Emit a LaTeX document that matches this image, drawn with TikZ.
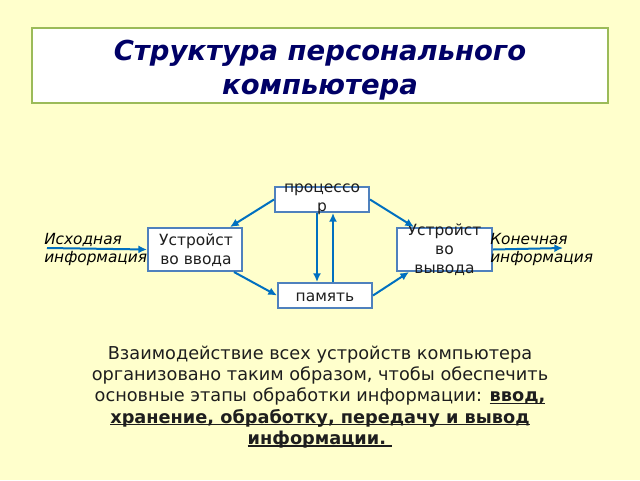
\documentclass[tikz,border=0pt]{standalone}
\usepackage{fontspec}
\setmainfont{DejaVu Sans}
\usetikzlibrary{arrows.meta,calc}
\definecolor{bg}{RGB}{255,255,204}
\definecolor{titlec}{RGB}{0,0,102}
\definecolor{greenb}{RGB}{155,187,89}
\definecolor{boxb}{RGB}{79,129,189}
\definecolor{arrc}{RGB}{0,112,192}
\definecolor{txt}{RGB}{30,30,30}
\newsavebox\ulbox
\newcommand\myul[1]{\sbox\ulbox{#1}\rlap{\rule[-1.6pt]{\wd\ulbox}{1.1pt}}\usebox\ulbox}
\tikzset{
  blk/.style={draw=boxb,line width=1.5pt,fill=white,inner sep=0pt},
  blktext/.style={text=txt,align=center,font=\fontsize{11.6pt}{14.2pt}\selectfont,inner sep=0pt},
  conn/.style={draw=arrc,line width=1.5pt,-{Latex[length=6.5pt,width=6pt]}},
  sidelbl/.style={align=left,inner sep=0pt,font=\fontsize{11.5pt}{13.5pt}\selectfont\itshape}
}
\begin{document}
\begin{tikzpicture}[x=0.75pt,y=-0.75pt]
\path[fill=bg] (0,0) rectangle (640,480);
\useasboundingbox (0,0) rectangle (640,480);
% title
\node[draw=greenb,line width=1.5pt,fill=white,minimum width=576*0.75pt,minimum height=75*0.75pt,inner sep=0pt] (titlebox) at (320,65.5) {};
\node[text=titlec,align=center,font=\fontsize{20.6pt}{25pt}\selectfont\bfseries\itshape,inner sep=0pt] (title) at (320,70) {Структура персонального\\компьютера};
% boxes
\node[blk,minimum width=94*0.75pt,minimum height=25*0.75pt] (proc) at (322,199.5) {};
\node[blk,minimum width=94*0.75pt,minimum height=43*0.75pt] (in) at (195,249.5) {};
\node[blk,minimum width=95*0.75pt,minimum height=43*0.75pt] (out) at (444.5,249.5) {};
\node[blk,minimum width=94*0.75pt,minimum height=25*0.75pt] (mem) at (325,295.5) {};
\node[blktext] (proct) at (322,199) {процессо\\р};
\node[blktext] (int) at (196,250) {Устройст\\во ввода};
\node[blktext] (outt) at (444.5,249.5) {Устройст\\во\\вывода};
\node[blktext] (memt) at (325,297) {память};
% side labels
\node[sidelbl,anchor=west] (src) at (44,249) {Исходная\\информация};
\node[sidelbl,anchor=west] (dst) at (490,249) {Конечная\\информация};
\coordinate (start) at (47,248);
\coordinate (finish) at (563,248);
% connectors
\draw[conn] (start) -- (in.west);
\draw[conn] (out.east) -- (finish);
\draw[conn] (proc.west) -- ($(in.north east)+(-13,0)$);
\draw[conn] ($(in.south east)+(-9,0)$) -- (mem.west);
\draw[conn] ($(proc.south)+(-5,0)$) -- ($(mem.north)+(-8,0)$);
\draw[conn] ($(mem.north)+(8,0)$) -- ($(proc.south)+(11,0)$);
\draw[conn] (proc.east) -- ($(out.north west)+(18,0)$);
\draw[conn] (mem.east) -- ($(out.south west)+(13,0)$);
% bottom text
\node[text=txt,align=center,inner sep=0pt,font=\fontsize{13.3pt}{16pt}\selectfont] (desc) at (320,397) {Взаимодействие всех устройств компьютера\\организовано таким образом, чтобы обеспечить\\основные этапы обработки информации: \textbf{\myul{ввод,}}\\\textbf{\myul{хранение, обработку, передачу и вывод}}\\\textbf{\myul{информации.\ }}};
\end{tikzpicture}
\end{document}
